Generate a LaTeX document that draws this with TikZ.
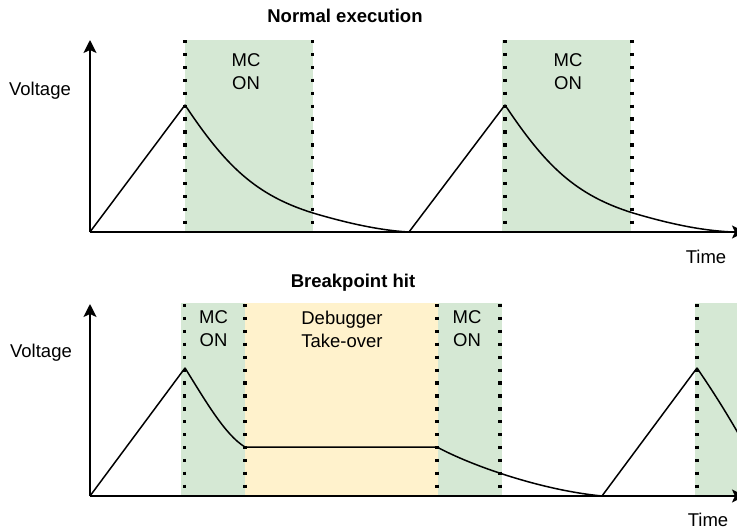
\documentclass[tikz,border=0pt]{standalone}
\usepackage{fontspec}
\setmainfont{Liberation Sans}
\usetikzlibrary{arrows.meta}
\definecolor{mcgreen}{HTML}{D5E8D4}
\definecolor{dbgyellow}{HTML}{FFF2CC}
\begin{document}
\begin{tikzpicture}[x=1pt,y=-1pt,
  lbl/.style={font=\fontsize{18.5}{23}\selectfont, inner sep=0pt, align=center},
  ttl/.style={font=\fontsize{18.5}{23}\selectfont\bfseries, inner sep=0pt},
  sep/.style={line width=3.3pt, dash pattern=on 3.3pt off 9.6pt},
  axis/.style={line width=1.6pt, -{Stealth[length=13pt,width=13pt,inset=3pt]}},
  wave/.style={line width=1.5pt, line join=round}]
\useasboundingbox (0,0) rectangle (737,530);
\clip (0,0) rectangle (737,530);
% ---------- top: normal execution ----------
\fill[mcgreen] (185,40) rectangle (313,232);
\fill[mcgreen] (502,40) rectangle (631,232);
\foreach \x in {185,312.5,505,632} \draw[sep] (\x,40) -- (\x,232);
\coordinate (o1) at (90,232);
\coordinate (ya1) at (90,40);
\coordinate (xa1) at (745,232);
\draw[axis] (o1) -- (ya1);
\draw[axis] (o1) -- (xa1);
\draw[wave] (o1) -- (185,105) .. controls (225,165) and (255,195) .. (313,213)
  .. controls (360,227) and (390,231) .. (409,232) -- (505,105)
  .. controls (545,165) and (575,195) .. (633,213)
  .. controls (680,227) and (710,231) .. (733,232);
\node[ttl, anchor=base] (t1) at (345,22) {Normal execution};
\node[lbl, anchor=base] (v1) at (40,95) {Voltage};
\node[lbl, anchor=base] (tm1) at (706,263) {Time};
\node[lbl] (mc1) at (246,72) {MC\\ON};
\node[lbl] (mc2) at (568,72) {MC\\ON};
% ---------- bottom: breakpoint hit ----------
\fill[mcgreen] (181,303) rectangle (245,496);
\fill[dbgyellow] (245,303) rectangle (438,496);
\fill[mcgreen] (438,303) rectangle (502,496);
\fill[mcgreen] (695,303) rectangle (740,496);
\foreach \x in {184.7,245,437,500,697} \draw[sep] (\x,304) -- (\x,496);
\coordinate (o2) at (90,496);
\coordinate (ya2) at (90,304);
\coordinate (xa2) at (745,496);
\draw[axis] (o2) -- (ya2);
\draw[axis] (o2) -- (xa2);
\draw[wave] (o2) -- (185,368) .. controls (205,400) and (225,435) .. (245,447)
  -- (437,447) .. controls (470,465) and (540,490) .. (602,496)
  -- (697,368) .. controls (710,387) and (725,410) .. (742,440);
\node[ttl, anchor=base] (t2) at (353,287) {Breakpoint hit};
\node[lbl, anchor=base] (v2) at (41,357) {Voltage};
\node[lbl, anchor=base] (tm2) at (708,526) {Time};
\node[lbl] (mc3) at (213.5,329) {MC\\ON};
\node[lbl] (dbg) at (342,329) {Debugger\\Take-over};
\node[lbl] (mc4) at (467,329) {MC\\ON};
\end{tikzpicture}
\end{document}
